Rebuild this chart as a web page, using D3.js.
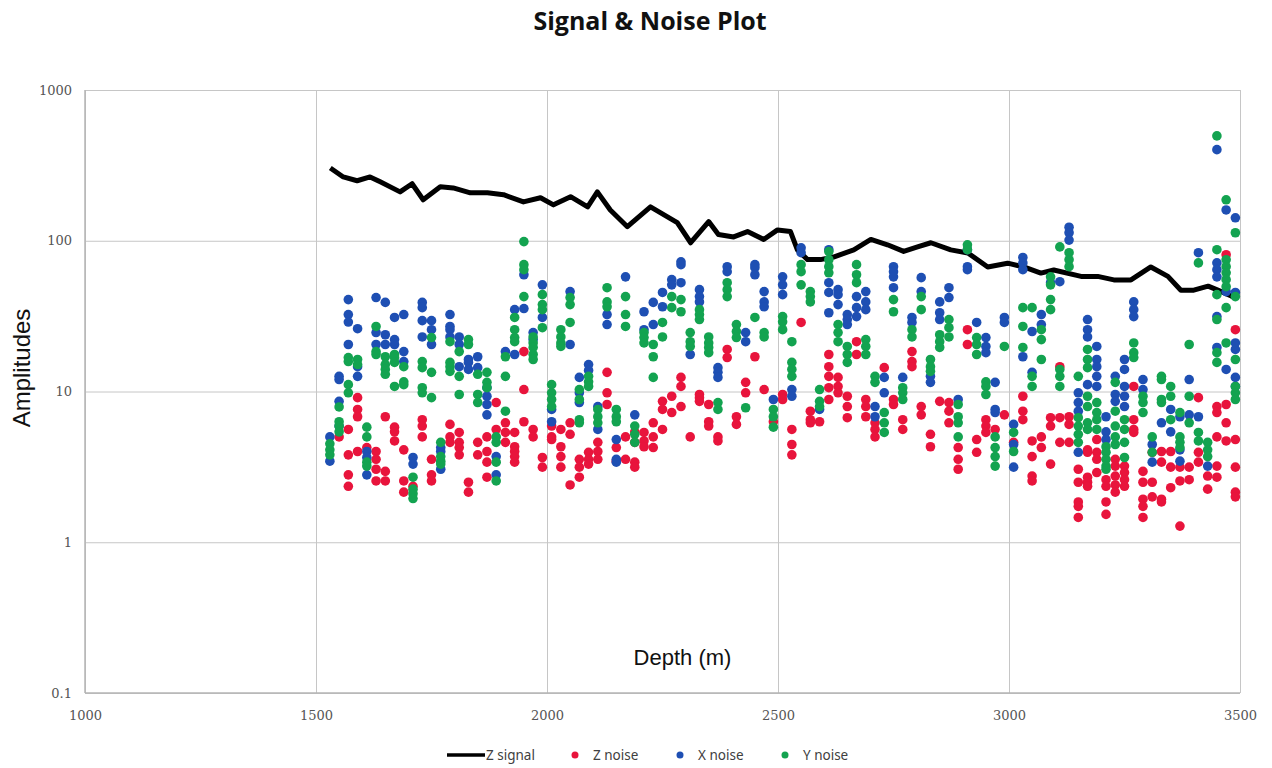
<!DOCTYPE html>
<html>
<head>
<meta charset="utf-8">
<script src="https://cdn.jsdelivr.net/npm/d3@7"></script>
<style>
    body { margin: 0; background: #fff; }
    .grid line { stroke: #c6c6c6; stroke-width: 1; }
    .grid .domain { display: none; }
    .axis .domain { display: none; }
    .axis text { font-family: "DejaVu Serif", serif; font-size: 13px; fill: #555; }
    .title { font-family: "Open Sans", sans-serif; font-weight: 700; font-size: 25px; fill: #111; }
    .axis-title { font-family: "Liberation Sans", Arial, sans-serif; fill: #111; }
    .legend text { font-family: "Noto Sans", sans-serif; font-size: 13.5px; fill: #404040; }
</style>
</head>
<body>
<svg id="chart" width="1272" height="768"></svg>
<script>
// depth (m), amplitude
const zSignal = [
    [1531, 304], [1559, 265], [1589, 250], [1617, 265], [1639, 246], [1682, 211],
    [1708, 239], [1732, 187], [1769, 228], [1797, 224], [1834, 208], [1871, 208],
    [1906, 202], [1949, 181], [1986, 193], [2014, 173], [2051, 196], [2088, 168],
    [2109, 211], [2137, 160], [2174, 124], [2224, 168], [2282, 132], [2311, 97],
    [2350, 134], [2371, 110], [2404, 106], [2434, 115], [2469, 102], [2499, 118],
    [2527, 115], [2542, 87], [2564, 75], [2592, 75], [2620, 78], [2664, 87],
    [2701, 102], [2737, 94], [2772, 85], [2802, 91], [2831, 97], [2874, 87],
    [2911, 83], [2954, 67], [2997, 71], [3032, 67], [3069, 61], [3097, 64],
    [3156, 58], [3192, 58], [3227, 55], [3264, 55], [3307, 67], [3344, 58],
    [3372, 47], [3400, 47], [3431, 50], [3452, 47], [3481, 43], [3491, 42]
];

// depth, amplitudes read at that depth
const zNoise = [
    [1530, []], [1550, [5.0]], [1570, [5.6, 3.8, 2.8, 2.35]], [1590, [9.1, 7.6, 6.8, 4.0]],
    [1610, [4.25]], [1630, [4.0, 3.55, 3.05, 2.55]], [1650, [6.8, 2.95, 2.55]], [1670, [5.8, 5.4, 4.7]],
    [1690, [4.1, 2.55, 2.15]], [1710, [2.35]], [1730, [6.5, 5.9, 5.0]], [1750, [3.55, 2.8, 2.55]],
    [1770, []], [1790, [6.05, 5.0, 4.6]], [1810, [5.35, 4.6, 4.25, 3.8]], [1830, [2.5, 2.15]],
    [1850, [4.6, 3.8]], [1870, [5.0, 4.0, 3.4, 2.7]], [1890, [8.45, 5.6]], [1910, [6.2, 5.35, 4.6]],
    [1930, [5.35, 4.3, 4.0, 3.7, 3.4]], [1950, [18.4, 10.3, 6.3]], [1970, [5.6, 5.0]], [1990, [3.65, 3.15]],
    [2010, [5.9, 5.0, 4.8]], [2030, [5.6, 4.3, 3.7, 3.15]], [2050, [6.2, 5.2, 2.4]], [2070, [3.55, 3.15, 2.7]],
    [2090, [3.95, 3.55, 3.3]], [2110, [4.6, 4.0, 3.55]], [2130, [13.4, 9.8, 8.2]], [2150, [4.25, 3.45]],
    [2170, [5.0, 3.55]], [2190, [5.4, 4.6, 3.4, 3.15]], [2210, [5.35, 4.7, 4.3]], [2230, [6.2, 5.0, 4.25]],
    [2250, [8.6, 7.6, 5.6]], [2270, [9.3, 7.25]], [2290, [12.4, 10.8, 7.95]], [2310, [5.0]],
    [2330, [9.55, 9.1, 8.6]], [2350, [8.2, 6.3, 5.9]], [2370, [5.0, 4.7]], [2390, [19, 16.8]],
    [2410, [6.8, 6.05]], [2430, [11.5, 9.8]], [2450, [17]], [2470, [10.3]],
    [2490, [6.3]], [2510, [9.55, 8.85]], [2530, [5.6, 4.45, 3.8]], [2550, [28.7]],
    [2570, [7.4, 6.5, 6.2]], [2590, [6.3]], [2610, [17.6, 14.6, 12.6, 10.6, 8.85]], [2630, [12.4, 10.8, 9.8]],
    [2650, [9.3, 7.95, 6.7]], [2670, [21.4, 17.6]], [2690, [8.85, 7.95, 6.8]], [2710, [6.2, 5.6, 5.0]],
    [2730, [14.4]], [2750, [8.85, 8.2]], [2770, [6.5, 5.6]], [2790, [18.4, 15.8, 14.6]],
    [2810, [7.95, 7.0]], [2830, [5.2, 4.3]], [2850, [8.6]], [2870, [8.45, 7.4, 6.2]],
    [2890, [4.25, 3.55, 3.05]], [2910, [25.7, 20.5]], [2930, [4.8, 3.95]], [2950, [6.5, 5.9, 5.35]],
    [2970, [5.6]], [2990, [7.0]], [3010, [4.6]], [3030, [9.3, 7.4, 6.5]],
    [3050, [4.7, 3.7, 2.75, 2.55]], [3070, [5.0, 4.25]], [3090, [6.7, 5.9, 3.3]], [3110, [14.6, 6.7, 4.6]],
    [3130, [6.8, 6.05, 4.6]], [3150, [3.05, 2.5, 1.85, 1.73, 1.46]], [3170, [4.1, 3.95, 2.7, 2.5, 2.35]], [3190, [4.8, 3.95, 3.55, 2.9]],
    [3210, [2.6, 2.35, 1.85, 1.53]], [3230, [3.55, 3.2, 2.75, 2.4, 2.15]], [3250, [3.2, 2.9, 2.6, 2.35]], [3270, [10.8, 6.5, 5.6, 5.35]],
    [3290, [2.95, 2.5, 1.93, 1.73, 1.46]], [3310, [3.95, 2.5, 2.0]], [3330, [4.0, 3.4, 1.93, 1.85]], [3350, [4.0, 3.15, 2.3]],
    [3370, [3.15, 2.55, 1.28]], [3390, [3.15, 2.6]], [3410, [9.1, 3.95, 3.4]], [3430, [2.75, 2.25]],
    [3450, [7.95, 7.25, 5.0, 3.2, 2.7]], [3470, [80.8, 8.2, 6.2, 4.7]], [3490, [25.7, 4.8, 3.15, 2.15, 2.0]]
];

const xNoise = [
    [1530, [5.0, 3.45]], [1550, [12.6, 12.0, 8.6, 5.9]], [1570, [40.7, 32.4, 28.9, 20.5]], [1590, [26.1, 14.6, 12.6]],
    [1610, [4.0, 3.65, 2.8]], [1630, [42, 24.6, 20.5]], [1650, [39, 23.8, 20.5]], [1670, [31, 22.1, 20.5]],
    [1690, [32.4, 18.4, 15.8]], [1710, [3.65, 3.3]], [1730, [39, 36, 29.5, 23]], [1750, [29.5, 25.7, 20.5]],
    [1770, [4.25, 4.0, 3.05]], [1790, [32.4, 27, 25.7, 23]], [1810, [23, 20.5, 14.6]], [1830, [16.3, 15.6, 14]],
    [1850, [17, 14.4]], [1870, [10.6, 9.3, 8.2, 7.0]], [1890, [3.7, 2.8]], [1910, [18.4]],
    [1930, [34.9, 17.6]], [1950, [59.5, 35.5]], [1970, [24.6, 22.1]], [1990, [51, 31]],
    [2010, [7.6, 6.3]], [2030, []], [2050, [46, 20.5]], [2070, [12.4, 9.8, 8.45]],
    [2090, [15.1, 13.8]], [2110, [7.95, 5.6]], [2130, [32.4, 27.8]], [2150, [4.8, 3.55, 3.4]],
    [2170, [57.6]], [2190, [7.0]], [2210, [33.8, 25.7]], [2230, [39, 27.8]],
    [2250, [45.4, 36.5]], [2270, [55.2, 51]], [2290, [72.5, 69.4, 52.7]], [2310, [17.6]],
    [2330, [47.4, 42.6, 39.3]], [2350, []], [2370, [14.4, 13.4, 12.4]], [2390, [67.3, 62.4]],
    [2410, []], [2430, [24.6, 21.4]], [2450, [69.4, 66.3, 59.5]], [2470, [46, 39.3, 36.5]],
    [2490, [8.85]], [2510, [57.6, 51, 43.9]], [2530, [10.3, 9.3]], [2550, [89.8, 83.3]],
    [2570, []], [2590, [7.6]], [2610, [87.2, 52.7, 45.4, 33.3]], [2630, [47.4, 43.9, 37.7]],
    [2650, [32.4, 30, 27.8]], [2670, [42.6, 36, 31.4]], [2690, [46, 39.3, 34.9]], [2710, [7.95, 6.8]],
    [2730, [12.4, 9.8]], [2750, [67.3, 62.4, 57.6, 48.8]], [2770, [12.4]], [2790, [31, 28.7]],
    [2810, [56.9, 46]], [2830, [12.6, 11.5]], [2850, [39.3, 33.3, 30]], [2870, [48.8, 42]],
    [2890, [8.85]], [2910, [87.2, 67.3, 64.3]], [2930, [28.7]], [2950, [22.8, 19.9, 18.1]],
    [2970, [11.5, 7.6, 7.25]], [2990, [31, 28.7]], [3010, [6.05, 4.45, 3.15]], [3030, [77.5, 71.3, 64.3, 17]],
    [3050, [25, 13.4]], [3070, [32.4, 27.8]], [3090, [52.7]], [3110, [53.5]],
    [3130, [123, 113, 101]], [3150, [9.8, 8.45, 7.4, 3.95]], [3170, [30, 25.7, 23, 11.1]], [3190, [19.9, 16.3, 14.6, 12.6, 10.8]],
    [3210, [6.8, 5.4, 4.8]], [3230, [12.6, 9.55, 8.6]], [3250, [16.3, 14, 10.8, 9.3, 7.95]], [3270, [39.3, 34.9, 31.4]],
    [3290, [12, 10.3]], [3310, [4.45, 3.4]], [3330, [6.2]], [3350, [7.6, 5.4]],
    [3370, [6.8, 4.1, 3.45]], [3390, [12, 7.0]], [3410, [83.3, 6.8]], [3430, [3.2]],
    [3450, [402, 71.3, 64.3, 57.6, 31.4, 19.6]], [3470, [160, 46, 14]], [3490, [142, 45.4, 21, 19, 12.4, 10.8]]
];

const yNoise = [
    [1530, [4.5, 4.1, 3.8]], [1550, [7.9, 6.3, 5.9, 5.4]], [1570, [16.8, 15.8, 11.1, 9.8]], [1590, [16.3, 15.1]],
    [1610, [5.8, 5.0, 3.4, 3.2]], [1630, [27, 18.4, 17.6]], [1650, [17, 15.1, 14, 13]], [1670, [17.6, 16.8, 15.6, 10.8]],
    [1690, [14.6, 11.6, 11.1]], [1710, [2.7, 2.25, 2.1, 1.95]], [1730, [15.8, 14.4, 10.6, 9.8]], [1750, [22.8, 13.4, 9.1]],
    [1770, [4.6, 3.7, 3.45, 3.3]], [1790, [21.4, 15.6, 14.6, 13.6]], [1810, [18.4, 12.6, 9.55]], [1830, [22.1, 20.5]],
    [1850, [13, 9.55, 8.45]], [1870, [13.4, 11.5, 10.6]], [1890, [5.0, 4.6, 3.4, 2.55]], [1910, [17, 12.6, 7.4]],
    [1930, [31, 25.7, 22.8, 21.4]], [1950, [98.7, 69.4, 64.3, 42.6]], [1970, [23, 21, 19.6, 17.6, 16.3]], [1990, [43.9, 37.7, 34.9, 26.5]],
    [2010, [11.1, 9.8, 8.85, 7.95]], [2030, [25.7, 23, 21, 19.9]], [2050, [42, 37.7, 28.7]], [2070, [10.3, 8.85, 6.5, 6.2]],
    [2090, [12.6, 11.6, 10.8]], [2110, [7.6, 6.8, 6.2]], [2130, [48.8, 39.3, 36.5]], [2150, [7.6, 6.8, 6.3]],
    [2170, [42.6, 32.4, 27]], [2190, [5.9, 5.2, 4.6]], [2210, [24.6, 22.8, 21]], [2230, [20.5, 17, 12.4]],
    [2250, [28.7, 23]], [2270, [42.6, 36]], [2290, [40.7, 33.8]], [2310, [24.6, 21.4, 19.9]],
    [2330, [34.9, 32.4, 30]], [2350, [23, 21, 19.6, 18.1]], [2370, [8.45, 7.6]], [2390, [52.7, 47.4, 42.6]],
    [2410, [27.8, 25, 22.8]], [2430, [7.8]], [2450, [31]], [2470, [24.6, 23]],
    [2490, [7.6, 6.8, 5.8]], [2510, [31.4, 29, 25.7]], [2530, [21.4, 15.6, 14, 12.6]], [2550, [69.4, 62.4, 51]],
    [2570, [46, 42.6, 39.3]], [2590, [10.3, 8.6, 7.95]], [2610, [84.7, 74.8, 67.3, 61.3]], [2630, [27.8, 24.6, 21.4]],
    [2650, [19.9, 17.6, 15.6]], [2670, [69.4, 59.5, 52.7]], [2690, [22.1, 19.9, 17.6]], [2710, [12.6, 11.5]],
    [2730, [7.25, 6.2, 5.35]], [2750, [40.7, 33.8]], [2770, [10.6, 9.8, 8.85]], [2790, [25.7, 23]],
    [2810, [42.6, 34.9]], [2830, [16.3, 14.6, 13.6]], [2850, [23.8, 21.4, 19.6]], [2870, [30, 26.5, 23]],
    [2890, [8.2, 6.8, 6.2, 5.0]], [2910, [94, 87.2]], [2930, [22.8, 20.5, 17.6]], [2950, [11.6, 10.8, 9.55]],
    [2970, [5.0, 4.25, 3.7, 3.2]], [2990, [19.9]], [3010, [5.35, 4.0]], [3030, [36, 27, 19.6]],
    [3050, [36, 12.6, 10.8]], [3070, [25.7, 22.1, 16.3]], [3090, [57.6, 51, 40.7, 34.9]], [3110, [91, 14, 12.6, 10.8]],
    [3130, [83.3, 74.8, 67.3]], [3150, [12.6, 6.7, 5.9, 5.2, 4.6]], [3170, [19, 16.3, 14.4, 9.3, 7.95, 6.2, 5.6]], [3190, [8.45, 7.25, 6.5, 5.6]],
    [3210, [4.3, 3.95, 3.55, 3.2, 3.05]], [3230, [11.5, 7.4, 5.9, 5.0, 4.45]], [3250, [6.5, 5.6, 4.6, 3.65]], [3270, [21, 18.1, 16.8]],
    [3290, [9.3, 8.45, 7.25]], [3310, [5.0, 3.95]], [3330, [12.6, 12, 8.85, 8.45]], [3350, [10.8, 9.3, 6.5]],
    [3370, [7.25, 5.0, 4.6, 4.25]], [3390, [20.5, 9.3, 6.2]], [3410, [71.3, 5.35, 4.7]], [3430, [4.6, 4.1, 3.7]],
    [3450, [496, 87.2, 43.9, 30, 18.1, 15.6]], [3470, [187, 74.8, 67.3, 61.3, 55.2, 49.6, 36, 21]], [3490, [113, 42.6, 16.3, 10.8, 9.8, 8.85]]
];

const xTicks = [1000, 1500, 2000, 2500, 3000, 3500];
const yTicks = [0.1, 1, 10, 100, 1000];
const yTickLabels = ['0.1', '1', '10', '100', '1000'];

const legendItems = [
    {name: 'Z signal', type: 'line', color: '#000000'},
    {name: 'Z noise', type: 'dot', color: '#e8143c'},
    {name: 'X noise', type: 'dot', color: '#1e4fb3'},
    {name: 'Y noise', type: 'dot', color: '#13a350'}
];

const margin = {top: 90, right: 32, bottom: 75, left: 85};
const width = 1272 - margin.left - margin.right;
const height = 768 - margin.top - margin.bottom;

const svg = d3.select('#chart');
const g = svg.append('g').attr('transform', `translate(${margin.left},${margin.top})`);

const x = d3.scaleLinear().domain([1000, 3500]).range([0, width]);
const y = d3.scaleLog().domain([0.1, 1000]).range([height, 0]);

// gridlines
g.append('g')
    .attr('class', 'grid')
    .attr('transform', `translate(0,${height})`)
    .call(d3.axisBottom(x).tickValues(xTicks).tickSize(-height).tickFormat(''));
g.append('g')
    .attr('class', 'grid')
    .call(d3.axisLeft(y).tickValues(yTicks).tickSize(-width).tickFormat(''));

// axis edges a touch darker
g.append('line').attr('x1', 0).attr('x2', 0).attr('y1', 0).attr('y2', height)
    .attr('stroke', '#b4b4b4').attr('stroke-width', 1.5);
g.append('line').attr('x1', 0).attr('x2', width).attr('y1', height).attr('y2', height)
    .attr('stroke', '#b4b4b4').attr('stroke-width', 1.5);

// tick labels
g.append('g')
    .attr('class', 'axis')
    .attr('transform', `translate(0,${height})`)
    .call(d3.axisBottom(x).tickValues(xTicks).tickSize(0).tickPadding(18).tickFormat(d3.format('d')));
g.append('g')
    .attr('class', 'axis')
    .call(d3.axisLeft(y).tickValues(yTicks).tickSize(0).tickPadding(13)
        .tickFormat((d, i) => yTickLabels[i]));

// signal line
g.append('path')
    .datum(zSignal)
    .attr('fill', 'none')
    .attr('stroke', '#000')
    .attr('stroke-width', 5)
    .attr('stroke-linejoin', 'round')
    .attr('d', d3.line().x(d => x(d[0])).y(d => y(d[1])));

function flatten(series) {
    const out = [];
    series.forEach(([depth, amps]) => amps.forEach(a => out.push([depth, a])));
    return out;
}

const noiseSeries = [
    {data: zNoise, color: legendItems[1].color},
    {data: xNoise, color: legendItems[2].color},
    {data: yNoise, color: legendItems[3].color}
];

noiseSeries.forEach(s => {
    g.append('g')
        .selectAll('circle')
        .data(flatten(s.data))
        .enter()
        .append('circle')
        .attr('cx', d => x(d[0]))
        .attr('cy', d => y(d[1]))
        .attr('r', 4.8)
        .attr('fill', s.color);
});

// axis titles
g.append('text')
    .attr('class', 'axis-title')
    .attr('x', width / 2 + 20)
    .attr('y', height - 28)
    .attr('text-anchor', 'middle')
    .style('font-size', '22px')
    .text('Depth (m)');

svg.append('text')
    .attr('class', 'axis-title')
    .attr('transform', 'rotate(-90)')
    .attr('x', -368)
    .attr('y', 30)
    .attr('text-anchor', 'middle')
    .style('font-size', '24px')
    .text('Amplitudes');

// title
svg.append('text')
    .attr('class', 'title')
    .attr('x', 650)
    .attr('y', 30)
    .attr('text-anchor', 'middle')
    .text('Signal & Noise Plot');

// legend
const legendX = [447, 575, 680, 785];
const legend = svg.append('g').attr('class', 'legend').attr('transform', 'translate(0,755)');
legendItems.forEach((item, i) => {
    const lg = legend.append('g').attr('transform', `translate(${legendX[i]},0)`);
    if (item.type === 'line') {
        lg.append('line').attr('x1', 0).attr('x2', 38).attr('y1', 0).attr('y2', 0)
            .attr('stroke', item.color).attr('stroke-width', 3.5);
        lg.append('text').attr('x', 39).attr('y', 5).text(item.name);
    } else {
        lg.append('circle').attr('cx', 0).attr('cy', 0).attr('r', 3.5).attr('fill', item.color);
        lg.append('text').attr('x', 18).attr('y', 5).text(item.name);
    }
});
</script>
</body>
</html>
